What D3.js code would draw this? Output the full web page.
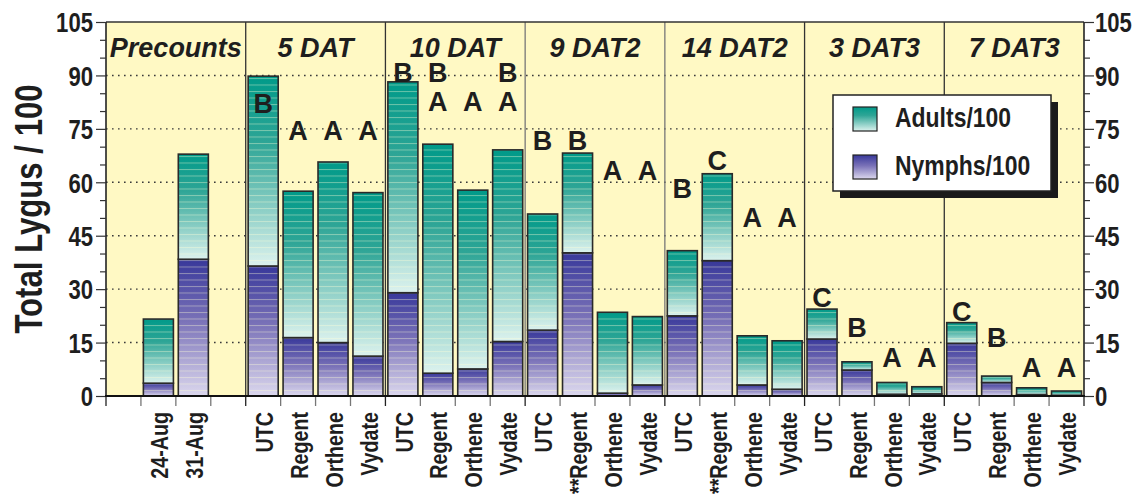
<!DOCTYPE html>
<html>
<head>
<meta charset="utf-8">
<script src="https://cdn.jsdelivr.net/npm/d3@7"></script>
<style>
  html, body { margin: 0; padding: 0; background: #ffffff; }
  svg { display: block; }
  .narrow { font-family: "Liberation Sans", Arial, sans-serif; font-weight: bold; }
  .wide { font-family: "Liberation Sans", Arial, sans-serif; font-weight: bold; }
</style>
</head>
<body>
<svg id="chart" width="1140" height="499"></svg>
<script>
// ---------------- DATA ----------------
const groups = ["Precounts", "5 DAT", "10 DAT", "9 DAT2", "14 DAT2", "3 DAT3", "7 DAT3"];
const categories = ["", "24-Aug", "31-Aug", "",
  "UTC", "Regent", "Orthene", "Vydate",
  "UTC", "Regent", "Orthene", "Vydate",
  "UTC", "**Regent", "Orthene", "Vydate",
  "UTC", "**Regent", "Orthene", "Vydate",
  "UTC", "Regent", "Orthene", "Vydate",
  "UTC", "Regent", "Orthene", "Vydate"];
const nymphs = [0, 3.6, 38.4, 0,
  36.5, 16.4, 15.0, 11.2,
  29.0, 6.4, 7.6, 15.3,
  18.5, 40.2, 0.8, 3.1,
  22.5, 38.0, 3.1, 1.9,
  16.0, 7.3, 0.5, 0.6,
  14.8, 3.8, 0.4, 0.2];
const adults = [0, 18.0, 29.5, 0,
  53.3, 41.1, 50.7, 45.9,
  59.2, 64.3, 50.2, 53.8,
  32.6, 28.0, 22.7, 19.2,
  18.3, 24.4, 13.8, 13.6,
  8.4, 2.3, 3.3, 2.0,
  5.8, 1.8, 1.9, 1.2];
const hasBar = [false, true, true, false,
  true, true, true, true, true, true, true, true, true, true, true, true,
  true, true, true, true, true, true, true, true, true, true, true, true];
// letter annotations: category index, letter, level (in y-axis units)
const letterCats   = [4, 5, 6, 7,  8, 9, 9, 10, 11, 11,  12, 13, 14, 15,  16, 17, 18, 19,  20, 21, 22, 23,  24, 25, 26, 27];
const letterText   = ["B","A","A","A", "B","B","A","A","B","A", "B","B","A","A", "B","C","A","A", "C","B","A","A", "C","B","A","A"];
const letterLevels = [79.5, 71.9, 71.9, 71.9, 88.2, 88.2, 80.0, 80.0, 88.2, 80.0, 69.1, 69.1, 60.6, 60.6,
  55.7, 63.4, 47.4, 47.4, 25.0, 16.6, 8.1, 8.1, 21.1, 13.8, 5.3, 5.3];
const majorTicks = [0, 15, 30, 45, 60, 75, 90, 105];
const minorTicks = [5, 10, 20, 25, 35, 40, 50, 55, 65, 70, 80, 85, 95, 100];
const seriesNames = ["Nymphs/100", "Adults/100"];
const yTitle = "Total Lygus / 100";
const slotsPerGroup = 4;

// ---------------- LAYOUT ----------------
const svg = d3.select("#chart");
const X0 = 106, X1 = 1084, Y0 = 22, Y1 = 396;
const NARROW = 0.82;

const x = d3.scaleBand().domain(d3.range(categories.length)).range([X0, X1]).paddingInner(0.14).paddingOuter(0.07);
const y = d3.scaleLinear().domain([0, 105]).range([Y1, Y0]);
const step = x.step();

// defs
const defs = svg.append("defs");
const gA = defs.append("linearGradient").attr("id", "gradA").attr("x1", 0).attr("y1", 0).attr("x2", 0).attr("y2", 1);
gA.append("stop").attr("offset", "0%").attr("stop-color", "#009a89");
gA.append("stop").attr("offset", "35%").attr("stop-color", "#2ea596");
gA.append("stop").attr("offset", "100%").attr("stop-color", "#dcf2ee");
const gN = defs.append("linearGradient").attr("id", "gradN").attr("x1", 0).attr("y1", 0).attr("x2", 0).attr("y2", 1);
gN.append("stop").attr("offset", "0%").attr("stop-color", "#38389a");
gN.append("stop").attr("offset", "45%").attr("stop-color", "#7a72b8");
gN.append("stop").attr("offset", "100%").attr("stop-color", "#dcd8ee");
const pat = defs.append("pattern").attr("id", "stripes").attr("patternUnits", "userSpaceOnUse")
  .attr("width", 10).attr("height", 6.5);
pat.append("rect").attr("x", 0).attr("y", 0).attr("width", 10).attr("height", 1).attr("fill", "rgba(255,255,215,0.38)");

// plot background
svg.append("rect").attr("x", X0).attr("y", Y0).attr("width", X1 - X0).attr("height", Y1 - Y0).attr("fill", "#fff9c4");

// gridlines
svg.append("g").selectAll("line").data(majorTicks.filter(t => t > 0 && t < 105)).join("line")
  .attr("x1", X0).attr("x2", X1).attr("y1", d => y(d)).attr("y2", d => y(d))
  .attr("stroke", "#3a3a3a").attr("stroke-width", 1.4).attr("stroke-dasharray", "1.6,4.4");

// group dividers
const divIdx = d3.range(1, groups.length).map(i => i * slotsPerGroup);
svg.append("g").selectAll("line").data(divIdx).join("line")
  .attr("x1", d => X0 + d * step).attr("x2", d => X0 + d * step)
  .attr("y1", Y0).attr("y2", Y1)
  .attr("stroke", (d, i) => (i === 2 || i === 3) ? "#777" : "#333").attr("stroke-width", 1.3);

// group headers
svg.append("g").selectAll("text").data(groups).join("text")
  .attr("class", "wide")
  .attr("x", (d, i) => X0 + (i * slotsPerGroup + slotsPerGroup / 2) * step)
  .attr("y", 57)
  .attr("text-anchor", "middle")
  .attr("font-size", 27).attr("font-style", "italic").attr("fill", "#1e1e1e")
  .text(d => d);

// stacked bars
const rows = categories.map((c, i) => ({ i, nymphs: nymphs[i], adults: adults[i], show: hasBar[i] }));
const stack = d3.stack().keys(["nymphs", "adults"]);
const series = stack(rows);
const fills = { nymphs: "url(#gradN)", adults: "url(#gradA)" };
const barsG = svg.append("g");
series.forEach(s => {
  const gg = barsG.append("g");
  const pts = s.filter(d => d.data.show);
  gg.selectAll("rect.seg").data(pts).join("rect").attr("class", "seg")
    .attr("x", d => x(d.data.i)).attr("width", x.bandwidth())
    .attr("y", d => y(d[1])).attr("height", d => Math.max(0, y(d[0]) - y(d[1])))
    .attr("fill", fills[s.key]);
  gg.selectAll("rect.str").data(pts).join("rect").attr("class", "str")
    .attr("x", d => x(d.data.i)).attr("width", x.bandwidth())
    .attr("y", d => y(d[1])).attr("height", d => Math.max(0, y(d[0]) - y(d[1])))
    .attr("fill", "url(#stripes)");
  gg.selectAll("rect.out").data(pts).join("rect").attr("class", "out")
    .attr("x", d => x(d.data.i)).attr("width", x.bandwidth())
    .attr("y", d => y(d[1])).attr("height", d => Math.max(0, y(d[0]) - y(d[1])))
    .attr("fill", "none").attr("stroke", "#2a2a2a").attr("stroke-width", 1.6);
});

// letters
svg.append("g").selectAll("text").data(letterCats.map((c, k) => ({ c, t: letterText[k], v: letterLevels[k] }))).join("text")
  .attr("class", "wide")
  .attr("x", d => x(d.c) + x.bandwidth() / 2)
  .attr("y", d => y(d.v))
  .attr("text-anchor", "middle").attr("font-size", 27).attr("fill", "#1e1e1e")
  .text(d => d.t);

// frame
svg.append("line").attr("x1", X0).attr("x2", X1).attr("y1", Y0).attr("y2", Y0).attr("stroke", "#333").attr("stroke-width", 1.5);
svg.append("line").attr("x1", X0).attr("x2", X0).attr("y1", Y0).attr("y2", Y1).attr("stroke", "#222").attr("stroke-width", 1.6);
svg.append("line").attr("x1", X1).attr("x2", X1).attr("y1", Y0).attr("y2", Y1).attr("stroke", "#222").attr("stroke-width", 1.6);

// condensed text helper: scale horizontally around the text's anchor
function condense(sel) {
  sel.each(function () {
    const t = d3.select(this);
    const tx = +t.attr("x") || 0;
    const ty = +t.attr("y") || 0;
    t.attr("x", 0).attr("y", 0).attr("transform", `translate(${tx},${ty}) scale(${NARROW},1)`);
  });
}

// y axes
function styleAxis(g) {
  g.select(".domain").remove();
  g.selectAll(".tick line").attr("stroke", "#333").attr("stroke-width", 1.2);
  g.selectAll(".tick text").attr("class", "narrow").attr("font-size", 27).attr("fill", "#1e1e1e");
}
const yl = svg.append("g").attr("transform", `translate(${X0},0)`)
  .call(d3.axisLeft(y).tickValues(majorTicks).tickSize(10).tickPadding(3).tickFormat(d3.format("d")));
styleAxis(yl);
yl.selectAll(".tick text").attr("dy", "0.36em").call(condense);
const ylm = svg.append("g").attr("transform", `translate(${X0},0)`)
  .call(d3.axisLeft(y).tickValues(minorTicks).tickSize(6).tickFormat(""));
styleAxis(ylm);
const yr = svg.append("g").attr("transform", `translate(${X1},0)`)
  .call(d3.axisRight(y).tickValues(majorTicks).tickSize(10).tickPadding(1).tickFormat(d3.format("d")));
styleAxis(yr);
yr.selectAll(".tick text").attr("dy", "0.36em").call(condense);
const yrm = svg.append("g").attr("transform", `translate(${X1},0)`)
  .call(d3.axisRight(y).tickValues(minorTicks).tickSize(6).tickFormat(""));
styleAxis(yrm);

// x axis: boundaries ticks + labels
svg.append("g").selectAll("line").data(d3.range(categories.length + 1)).join("line")
  .attr("x1", d => X0 + d * step).attr("x2", d => X0 + d * step)
  .attr("y1", Y1).attr("y2", Y1 + 10)
  .attr("stroke", d => d % slotsPerGroup === 0 ? "#222" : "#777").attr("stroke-width", 1.3);
svg.append("line").attr("x1", X0 - 1).attr("x2", X1 + 1).attr("y1", Y1).attr("y2", Y1).attr("stroke", "#111").attr("stroke-width", 2.2);

svg.append("g").selectAll("text").data(categories.map((c, i) => ({ c, i })).filter(d => d.c !== "")).join("text")
  .attr("class", "narrow")
  .attr("transform", d => `translate(${x(d.i) + x.bandwidth() / 2 + 1},412) rotate(-90) scale(${NARROW},1)`)
  .attr("dy", "0.36em")
  .attr("text-anchor", "end").attr("font-size", 24).attr("fill", "#1e1e1e")
  .text(d => d.c);

// y title
svg.append("text").attr("class", "narrow")
  .attr("transform", `translate(42,${(Y0 + Y1) / 2}) rotate(-90) scale(${NARROW},1)`)
  .attr("text-anchor", "middle").attr("font-size", 38).attr("fill", "#1e1e1e")
  .text(yTitle);

// legend
const L = { x: 833, y: 95, w: 218, h: 96 };
svg.append("rect").attr("x", L.x + 7).attr("y", L.y + 7).attr("width", L.w).attr("height", L.h).attr("fill", "#1a1a1a");
svg.append("rect").attr("x", L.x).attr("y", L.y).attr("width", L.w).attr("height", L.h).attr("fill", "#ffffff").attr("stroke", "#222").attr("stroke-width", 1.5);
const legendItems = [{ name: seriesNames[1], fill: "url(#gradA)" }, { name: seriesNames[0], fill: "url(#gradN)" }];
const lg = svg.append("g").selectAll("g").data(legendItems).join("g")
  .attr("transform", (d, i) => `translate(${L.x + 20},${L.y + 12 + i * 48})`);
lg.append("rect").attr("width", 24).attr("height", 24).attr("fill", d => d.fill).attr("stroke", "#222").attr("stroke-width", 1.2);
lg.append("text").attr("class", "narrow")
  .attr("transform", `translate(42,20) scale(${NARROW},1)`)
  .attr("font-size", 28).attr("fill", "#1e1e1e").text(d => d.name);
</script>
</body>
</html>
